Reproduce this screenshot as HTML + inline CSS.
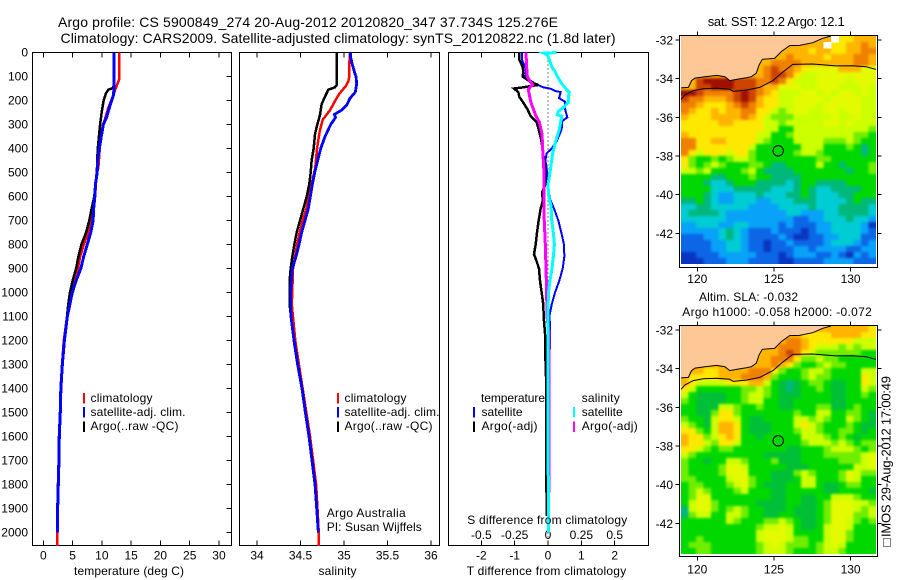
<!DOCTYPE html>
<html>
<head>
<meta charset="utf-8">
<title>Argo profile chart</title>
<style>
html,body{margin:0;padding:0;background:#fff;}
svg{display:block;}
text{font-family:"Liberation Sans",sans-serif;font-size:12px;fill:#000;}
.t13{font-size:13px;}
.t14{font-size:14px;}
</style>
</head>
<body>
<svg id="chart" width="900" height="580" viewBox="0 0 900 580" xmlns="http://www.w3.org/2000/svg">
  <defs>
    <filter id="heat-soften" filterUnits="userSpaceOnUse" x="670" y="20" width="220" height="550" color-interpolation-filters="sRGB">
      <feGaussianBlur stdDeviation="1.2"/>
      <feComponentTransfer>
        <feFuncA type="linear" slope="60" intercept="0"/>
      </feComponentTransfer>
    </filter>
    <clipPath id="clip-sst"><rect x="681" y="36" width="195" height="228"/></clipPath>
    <clipPath id="clip-sla"><rect x="681" y="326" width="195" height="228"/></clipPath>
  </defs>
  <rect x="0" y="0" width="900" height="580" fill="#fff"/>
  <text class="t14" x="58" y="27" textLength="500" lengthAdjust="spacing">Argo profile: CS 5900849_274 20-Aug-2012 20120820_347 37.734S 125.276E</text>
  <text class="t14" x="60.5" y="43" textLength="555" lengthAdjust="spacing">Climatology: CARS2009. Satellite-adjusted climatology: synTS_20120822.nc (1.8d later)</text>

  <g id="panel-t"></g>
  <g id="panel-s"></g>
  <g id="panel-d"></g>
  <g id="map-sst"></g>
  <g id="map-sla"></g>

  <text x="74" y="575" textLength="110" lengthAdjust="spacing">temperature (deg C)</text>
  <text x="318.5" y="575" textLength="38" lengthAdjust="spacing">salinity</text>
  <text x="466.7" y="575" textLength="159.5" lengthAdjust="spacing">T difference from climatology</text>

  <g>
    <rect x="83" y="393" width="2" height="10.5" fill="#ff0000"/>
    <rect x="83" y="407" width="2" height="10.5" fill="#0000ff"/>
    <rect x="83" y="421.5" width="2" height="10.5" fill="#000"/>
    <text x="90.5" y="402" textLength="62" lengthAdjust="spacing">climatology</text>
    <text x="90.5" y="416" textLength="95" lengthAdjust="spacing">satellite-adj. clim.</text>
    <text x="90.5" y="430" textLength="88" lengthAdjust="spacing">Argo(..raw -QC)</text>
  </g>
  <g>
    <rect x="337" y="393" width="2" height="10.5" fill="#ff0000"/>
    <rect x="337" y="407" width="2" height="10.5" fill="#0000ff"/>
    <rect x="337" y="421.5" width="2" height="10.5" fill="#000"/>
    <text x="344.5" y="402" textLength="62" lengthAdjust="spacing">climatology</text>
    <text x="344.5" y="416" textLength="95" lengthAdjust="spacing">satellite-adj. clim.</text>
    <text x="344.5" y="430" textLength="88" lengthAdjust="spacing">Argo(..raw -QC)</text>
    <text x="326.7" y="517" textLength="79" lengthAdjust="spacing">Argo Australia</text>
    <text x="326.7" y="531" textLength="95" lengthAdjust="spacing">PI: Susan Wijffels</text>
  </g>
  <g>
    <text x="481" y="402" textLength="64" lengthAdjust="spacing">temperature</text>
    <text x="581.7" y="402" textLength="38" lengthAdjust="spacing">salinity</text>
    <rect x="473" y="407" width="2" height="10.5" fill="#0000ff"/>
    <text x="481.5" y="416" textLength="41" lengthAdjust="spacing">satellite</text>
    <rect x="473" y="421.5" width="2" height="10.5" fill="#000"/>
    <text x="481.5" y="430" textLength="56" lengthAdjust="spacing">Argo(-adj)</text>
    <rect x="573" y="407" width="2" height="10.5" fill="#00ffff"/>
    <text x="581.7" y="416" textLength="41" lengthAdjust="spacing">satellite</text>
    <rect x="573" y="421.5" width="2" height="10.5" fill="#ff00ff"/>
    <text x="581.7" y="430" textLength="56" lengthAdjust="spacing">Argo(-adj)</text>
    <text x="467.3" y="524" textLength="160" lengthAdjust="spacing">S difference from climatology</text>
  </g>

  <text class="t13" x="707.7" y="26" textLength="137" lengthAdjust="spacing">sat. SST: 12.2 Argo: 12.1</text>
  <text x="699" y="301" textLength="99" lengthAdjust="spacing">Altim. SLA: -0.032</text>
  <text x="682.3" y="316" textLength="189.5" lengthAdjust="spacing">Argo h1000: -0.058 h2000: -0.072</text>

  <rect x="883.5" y="538.5" width="7" height="8" fill="#fff" stroke="#000" stroke-width="1" stroke-dasharray="1 1"/>
  <text class="t13" transform="translate(890.7 537) rotate(-90)" x="0" y="0" textLength="161" lengthAdjust="spacing">IMOS 29-Aug-2012 17:00:49</text>
</svg>

<script>
/* ---------- profile data: depth (m) and values ---------- */
var tempRedDepth = [0,110,125,160,180,230,280,320,380,480,500,600,680,750,800,850,900,950,1000,1100,1200,1300,1400,1500,1600,1700,1800,1900,2000,2055];
var tempRedValues = [12.98,12.98,12.75,12.2,11.95,11.1,10.5,10,9.7,9.4,9.1,8.85,8.4,7.7,6.9,6.3,5.9,5.4,4.72,4.05,3.5,3.2,3.0,2.85,2.7,2.62,2.5,2.42,2.38,2.38];
var tempBlackDepth = [0,130,148,155,170,200,250,300,350,400,450,500,550,600,650,700,750,800,850,900,950,1000,1050,1100,1200,1300,1400,1500,1600,1700,1800,1900,1960];
var tempBlackValues = [12.1,12.1,11.9,11.1,10.7,10.3,9.96,9.7,9.5,9.3,9.2,9.15,8.9,8.7,8.25,7.85,7.3,6.5,6.0,5.6,5.0,4.55,4.25,4.05,3.55,3.2,2.95,2.85,2.68,2.62,2.51,2.4,2.36];
var tempBlueDepth = [0,150,180,220,270,300,350,400,450,500,550,600,650,700,750,800,850,900,950,1000,1100,1200,1300,1400,1500,1600,1700,1800,1900,2000];
var tempBlueValues = [12.1,12.1,11.95,11.4,10.8,10.25,9.9,9.56,9.3,9.2,8.9,8.8,8.6,8.5,8.1,7.5,6.9,6.4,5.6,4.95,4.1,3.6,3.25,3.0,2.9,2.73,2.67,2.56,2.45,2.4];

var salRedDepth = [0,50,100,120,140,170,200,240,280,330,400,480,560,650,700,750,800,900,1050,1200,1400,1600,1800,2000,2055];
var salRedValues = [35.07,35.06,35.06,35.05,35.02,34.95,34.9,34.84,34.755,34.72,34.69,34.67,34.62,34.567,34.525,34.49,34.46,34.414,34.4,34.44,34.525,34.61,34.68,34.71,34.71];
var salBlackDepth = [0,135,145,155,185,215,260,300,340,400,450,500,550,600,650,700,750,800,850,900,950,1050,1100,1200,1300,1400,1500,1600,1700,1800,1900,1960];
var salBlackValues = [34.916,34.916,34.897,34.82,34.78,34.743,34.724,34.693,34.667,34.651,34.628,34.617,34.6,34.571,34.533,34.494,34.456,34.429,34.406,34.387,34.375,34.375,34.39,34.428,34.47,34.52,34.559,34.601,34.635,34.67,34.689,34.7];
var salBlueDepth = [0,20,50,80,100,130,165,190,220,240,258,270,300,350,400,450,500,550,600,650,700,750,800,850,900,950,1000,1050,1100,1200,1300,1400,1500,1600,1700,1800,1900,2000];
var salBlueValues = [35.076,35.076,35.096,35.119,35.138,35.146,35.13,35.07,35.03,34.973,34.889,34.904,34.847,34.782,34.732,34.698,34.663,34.636,34.613,34.59,34.552,34.513,34.483,34.448,34.406,34.395,34.387,34.387,34.391,34.425,34.467,34.517,34.556,34.598,34.632,34.667,34.686,34.705];

var diffTBlueDepth = [0,30,60,80,100,115,130,145,150,160,165,190,205,235,270,285,320,370,400,420,450,480,550,610,650,700,750,800,850,900,950,1000,1050,1100,1130,2000];
var diffTBlueValues = [-.78,-.78,-.69,-.66,-.69,-.54,-.39,-.14,.06,.21,.38,.33,.51,.51,.58,.43,.41,.26,.11,-.04,-.08,-.04,-.02,.06,.18,.31,.4,.48,.49,.44,.34,.21,.11,.04,.06,0];
var diffTBlackDepth = [0,30,60,80,100,110,125,135,145,150,165,185,205,235,265,290,320,360,400,450,500,550,580,620,650,700,750,800,840,870,900,950,1000,1050,1100,1170,1262,1350,1530,1930];
var diffTBlackValues = [-.86,-.86,-.76,-.74,-.76,-.66,-.49,-.29,-.74,-1.02,-.89,-.86,-.76,-.62,-.52,-.34,-.28,-.21,-.16,-.12,-.08,-.08,-.17,-.16,-.22,-.28,-.33,-.37,-.42,-.34,-.27,-.24,-.19,-.14,-.13,-.09,-.08,-.06,-.06,-.04];
var diffSCyanDepth = [0,3,10,30,60,80,100,130,155,165,185,205,230,245,260,265,320,370,420,500,550,600,640,700,750,800,850,900,950,1000,1100,1350,2000];
var diffSCyanValues = [.065,-.03,-.005,.01,.028,.053,.07,.103,.14,.16,.153,.155,.115,.078,.07,.103,.085,.058,.035,.015,0,.005,.023,.028,.04,.048,.04,.03,.015,.003,0,0,.003];
var diffSMagentaDepth = [0,60,100,120,135,145,155,175,205,235,265,290,340,400,450,500,550,620,700,800,900,1000,1100,1160,1830,1835,2000];
var diffSMagentaValues = [-.165,-.16,-.155,-.135,-.115,-.135,-.148,-.14,-.13,-.11,-.09,-.065,-.045,-.04,-.035,-.03,-.03,-.03,-.028,-.02,-.015,-.01,-.008,.006,.006,.003,.003];

/* ---------- tick values ---------- */
var depthTicks = [0,100,200,300,400,500,600,700,800,900,1000,1100,1200,1300,1400,1500,1600,1700,1800,1900,2000];
var tempTicks = [0,5,10,15,20,25,30];
var salTicks = [34,34.5,35,35.5,36];
var diffTTicks = [-2,-1,0,1,2];
var diffSTicks = [-0.5,-0.25,0,0.25,0.5];
var lonTicks = [120,125,130];
var latTicks = [-32,-34,-36,-38,-40,-42];

/* ---------- map data ---------- */
var argoLon = 125.276;
var argoLat = -37.734;
var coastLon = [118.94,119.42,119.63,119.85,120.5,121.26,121.8,122.12,122.6,123.2,123.53,123.85,124.03,124.24,125.04,125.48,126.02,126.67,127.53,128.18,128.72];
var coastLat = [-34.48,-34.45,-34.1,-33.97,-33.9,-33.83,-33.9,-34.1,-34.03,-33.95,-33.9,-33.72,-33.29,-33.0,-32.95,-32.6,-32.29,-32.28,-32.14,-31.91,-31.79];
var isobathLon = [118.94,119.2,119.74,120.39,121.26,122.12,122.34,123.2,124.07,124.94,125.48,126.23,127.53,129.05,130.13,131,131.65];
var isobathLat = [-35.07,-34.84,-34.62,-34.52,-34.5,-34.55,-34.66,-34.59,-34.45,-34.1,-33.72,-33.26,-33.24,-33.34,-33.33,-33.38,-33.52];

/* colour levels: 0 dark blue ... c dark red, d mid green, e lime yellow, w missing */
var levelColors = {'0':'#0a35c0','1':'#0c66e6','2':'#08a2f8','3':'#00ccd4','4':'#00b87c','5':'#00d800','6':'#70ee00','7':'#ccff00','8':'#ffe800','9':'#ffb400','a':'#f08000','b':'#cc4400','c':'#a01000','d':'#00c038','e':'#e4fa00','w':'#ffffff'};

var sstRows = [
"99999999999999999999w88999",
"9999999999999999999w8899a9",
"999999999999999998998899aa",
"99999999999999a99998999aa9",
"999999999999aaaa9999999aa9",
"99999999999abaa98eeee999ee",
"99999999999abba877eeeeeeee",
"99bccccbbbaaba8777eeee7eee",
"99bbcccbbba99eee77eee777e7",
"ccbaaaabcba98777ee7e7ee7e7",
"baa999abcb98877eeee7eeee77",
"aa98889aba98877eee7eeeee77",
"a9889899aa88767ee77ee7ee77",
"98889999a98766677777e77e77",
"8888899888877677777ee7e777",
"88888888888775577777777776",
"98888888887755677777777665",
"aa889988887655577776667655",
"aa888888875555557775556545",
"a8788878865555567765555545",
"86556567765555555566555555",
"86567655566544555575545556",
"77675555675444455555554556",
"55554455565544445555555555",
"55543345554444345544445555",
"55553334444433345433444455",
"55543223334333445433344555",
"44543223332233344433334544",
"33443333322223333433344443",
"34444322222222332223344443",
"33333322222222211223334332",
"22333223322221211122333320",
"22222343211121110122333321",
"11122343211112100112233311",
"11112233211011211112333212",
"11112233211011122122221122",
"00111222221110122211210212",
"00011122211110011112222111"
];
var slaRows = [
"99999999999999999999999998",
"99999999999999998888999988",
"99999999999999aa9888888777",
"9999999999999aaa9877767677",
"9999999999999aba8766666655",
"999999999999aaa86676655555",
"999999999999a9865567665555",
"999889999aaa86556776555577",
"98888999aaa965556766555587",
"9877778889975d4d5665dd5587",
"8755555566765d4d5565dd5576",
"75dddd5567765ddd5555dd5565",
"65dddd5567755dd55555dd5555",
"55ddd77655655dd55566dd5655",
"55dd688655555556557755665d",
"655d78875dd55557767655765d",
"765d79985ddd555787655565dd",
"886579985ddd555677655665d5",
"9886789855d555557776565d55",
"98876887555555556777676566",
"88765665555555dd5556777656",
"76555555555ddddd55566666 7e".replace(' ','').slice(0,26),
"655d557765556ddd555556667e",
"655556ee755555ddd5555557 7e".replace(' ','').slice(0,26),
"655556eee555ddd676555 6e766".replace(' ','').slice(0,26),
"665555 7ee655ddd5775556e755".replace(' ','').slice(0,26),
"56655567e65ddd55775dd56655",
"567655567555dd55555dd5555d",
"56ee55555555dd55dd55777655",
"57ee655555dddd55dd56eee776",
"47ee6567655ddd5ddd56eee767",
"467755776 55dd55ddd56eee667".replace(' ','').slice(0,26),
"5555557655566765dd56ee7656",
"5555555555677e75dd57ee7555",
"55555555557eee755557ee6555",
"55655555557eee766557ee6555",
"56665555556 7e7666567e75555".replace(' ','').slice(0,26),
"55665555556777655567765555"
];

/* ---------- helpers ---------- */
var SVGNS = 'http://www.w3.org/2000/svg';
var PLOT_TOP = 52.5, PLOT_BOTTOM = 545.5;
function yDepth(d){ return 52.5 + d * 0.2401; }
function make(parent, tag, attrs){
  var el = document.createElementNS(SVGNS, tag);
  for (var k in attrs) el.setAttribute(k, attrs[k]);
  parent.appendChild(el);
  return el;
}
function drawFrame(g, left, right, top, bottom){
  var el = make(g, 'rect', {x:left, y:top, width:right-left, height:bottom-top, fill:'none', stroke:'#000', 'stroke-width':1, 'shape-rendering':'crispEdges'});
  
  
}
function drawTickLine(g, x1, y1, x2, y2){
  var el = make(g, 'line', {x1:x1, y1:y1, x2:x2, y2:y2, stroke:'#000', 'stroke-width':1, 'shape-rendering':'crispEdges'});
  
  
}
function drawLabel(g, str, x, y, anchor){
  var el = make(g, 'text', {x:x, y:y, 'text-anchor':anchor});
  el.textContent = str;
  
  
}
function drawProfile(g, name, depths, values, xFn, color, width){
  var pts = [];
  for (var i = 0; i < values.length; i++) pts.push(xFn(values[i]).toFixed(2) + ',' + yDepth(depths[i]).toFixed(2));
  var el = make(g, 'polyline', {points:pts.join(' '), fill:'none', stroke:color, 'stroke-width':width, 'stroke-linejoin':'miter', 'shape-rendering':'crispEdges'});
  
  
}

/* ---------- temperature panel ---------- */
var gT = document.getElementById('panel-t');
function xTemp(v){ return 43.3 + v * 5.856; }
drawFrame(gT, 32.5, 231.5, PLOT_TOP, PLOT_BOTTOM);
tempTicks.forEach(function(v){
  drawTickLine(gT, xTemp(v), PLOT_TOP, xTemp(v), PLOT_TOP + 5);
  drawTickLine(gT, xTemp(v), PLOT_BOTTOM, xTemp(v), PLOT_BOTTOM - 5);
  drawLabel(gT, String(v), xTemp(v), 559.5, 'middle');
});
depthTicks.forEach(function(d){
  drawTickLine(gT, 231.5, yDepth(d), 226.5, yDepth(d));
  drawLabel(gT, String(d), 28, yDepth(d) + 4, 'end');
});
drawProfile(gT, 'temperature-climatology-line', tempRedDepth, tempRedValues, xTemp, '#ff0000', 2.5);
drawProfile(gT, 'temperature-argo-line', tempBlackDepth, tempBlackValues, xTemp, '#000000', 2.5);
drawProfile(gT, 'temperature-satellite-line', tempBlueDepth, tempBlueValues, xTemp, '#0000ff', 3);

/* ---------- salinity panel ---------- */
var gS = document.getElementById('panel-s');
function xSal(v){ return 257 + (v - 34) * 87; }
drawFrame(gS, 239.5, 439.5, PLOT_TOP, PLOT_BOTTOM);
salTicks.forEach(function(v){
  drawTickLine(gS, xSal(v), PLOT_TOP, xSal(v), PLOT_TOP + 5);
  drawTickLine(gS, xSal(v), PLOT_BOTTOM, xSal(v), PLOT_BOTTOM - 5);
  drawLabel(gS, String(v), xSal(v), 559.5, 'middle');
});
drawProfile(gS, 'salinity-climatology-line', salRedDepth, salRedValues, xSal, '#ff0000', 2.5);
drawProfile(gS, 'salinity-argo-line', salBlackDepth, salBlackValues, xSal, '#000000', 2.5);
drawProfile(gS, 'salinity-satellite-line', salBlueDepth, salBlueValues, xSal, '#0000ff', 2.8);

/* ---------- difference panel ---------- */
var gD = document.getElementById('panel-d');
function xDiffT(v){ return 548 + v * 33.35; }
function xDiffS(v){ return 548 + v * 133.4; }
drawFrame(gD, 448.5, 648.5, PLOT_TOP, PLOT_BOTTOM);
var zeroLine = make(gD, 'line', {x1:xDiffT(0), y1:PLOT_TOP, x2:xDiffT(0), y2:PLOT_BOTTOM, stroke:'#000', 'stroke-width':1, 'stroke-dasharray':'1 3', 'shape-rendering':'crispEdges'});


diffTTicks.forEach(function(v){
  if (v !== 0) drawTickLine(gD, xDiffT(v), PLOT_TOP, xDiffT(v), PLOT_TOP + 5);
  drawTickLine(gD, xDiffT(v), PLOT_BOTTOM, xDiffT(v), PLOT_BOTTOM - 5);
  drawLabel(gD, String(v), xDiffT(v), 559.5, 'middle');
});
diffSTicks.forEach(function(v){
  drawLabel(gD, String(v), xDiffS(v), 539, 'middle');
});
drawProfile(gD, 't-diff-satellite-line', diffTBlueDepth, diffTBlueValues, xDiffT, '#0000ff', 2);
drawProfile(gD, 't-diff-argo-line', diffTBlackDepth, diffTBlackValues, xDiffT, '#000000', 2.5);
drawProfile(gD, 's-diff-argo-line', diffSMagentaDepth, diffSMagentaValues, xDiffS, '#ff00ff', 3);
drawProfile(gD, 's-diff-satellite-line', diffSCyanDepth, diffSCyanValues, xDiffS, '#00ffff', 3);

/* ---------- maps ---------- */
function drawMap(id, rows, clipId, top, bottom, heatTop, lat32Y, labelY){
  var g = document.getElementById(id);
  var left = 679.5, right = 877.5, heatLeft = 681, cellW = 7.5, cellH = 6;
  function xLon(v){ return 697.3 + (v - 120) * 15.33; }
  function yLat(v){ return lat32Y + (-32 - v) * 19.33; }
  var clip = make(g, 'g', {'clip-path':'url(#' + clipId + ')'});
  
  
  var soft = make(clip, 'g', {filter:'url(#heat-soften)'});
  
  
  rows.forEach(function(row, r){
    for (var c = 0; c < 26; c++){
      var code = row.charAt(c);
      var cell = make(code === 'w' ? clip : soft, 'rect', {x:heatLeft + c * cellW, y:heatTop + r * cellH, width:cellW + 0.3, height:cellH + 0.3, fill:levelColors[code] || '#00d800', 'shape-rendering':'crispEdges'});
      
      
    }
  });
  var landPts = [heatLeft + ',' + heatTop];
  for (var i = 0; i < coastLon.length; i++) landPts.push(xLon(coastLon[i]).toFixed(1) + ',' + Math.max(heatTop, yLat(coastLat[i])).toFixed(1));
  landPts.unshift(xLon(coastLon[coastLon.length - 1]).toFixed(1) + ',' + heatTop);
  var land = make(clip, 'polygon', {points:landPts.join(' '), fill:'#fdc896', stroke:'none'});
  
  
  var coastPts = coastLon.map(function(v, j){ return xLon(v).toFixed(1) + ',' + Math.max(heatTop, yLat(coastLat[j])).toFixed(1); });
  var coast = make(g, 'polyline', {points:coastPts.join(' '), fill:'none', stroke:'#000', 'stroke-width':1});
  
  
  var isoPts = isobathLon.map(function(v, j){ return xLon(v).toFixed(1) + ',' + yLat(isobathLat[j]).toFixed(1); });
  var iso = make(g, 'polyline', {points:isoPts.join(' '), fill:'none', stroke:'#000', 'stroke-width':1});
  
  
  drawFrame(g, left, right, top, bottom);
  lonTicks.forEach(function(v){
    drawTickLine(g, xLon(v), top, xLon(v), top - 4);
    drawTickLine(g, xLon(v), bottom, xLon(v), bottom + 4);
    drawLabel(g, String(v), xLon(v), labelY, 'middle');
  });
  latTicks.forEach(function(v){
    drawTickLine(g, left, yLat(v), left - 4, yLat(v));
    drawTickLine(g, right, yLat(v), right + 4, yLat(v));
    drawLabel(g, String(v), 673, yLat(v) + 4.5, 'end');
  });
  var marker = make(g, 'circle', {cx:xLon(argoLon), cy:yLat(argoLat), r:5.2, fill:'none', stroke:'#000', 'stroke-width':1});
  
  
}
drawMap('map-sst', sstRows, 'clip-sst', 35.5, 267.5, 36, 40, 283);
drawMap('map-sla', slaRows, 'clip-sla', 325.5, 556.5, 326, 330, 573.5);
</script>
</body>
</html>
